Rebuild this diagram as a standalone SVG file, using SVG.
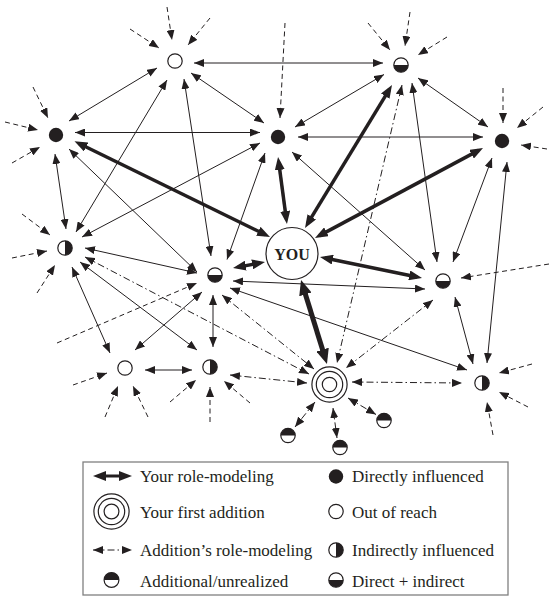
<svg xmlns="http://www.w3.org/2000/svg" width="550" height="604" viewBox="0 0 550 604">
  <defs>
    <style>
      .ln { stroke:#231f20; fill:none; stroke-width:1; }
      .bi { marker-start:url(#ah); marker-end:url(#ah); }
      .in { stroke-dasharray:5 3.5; marker-end:url(#ah); }
      .dd { stroke-dasharray:7 3 1.5 3; marker-start:url(#ah); marker-end:url(#ah); }
      .tk { stroke-width:3.5; marker-start:url(#ahT); marker-end:url(#ahT); }
      .tkk { stroke-width:5; marker-start:url(#ahK); marker-end:url(#ahK); }
      .ring { fill:#fff; stroke:#231f20; stroke-width:1.2; }
      .solid { fill:#231f20; }
      .half { fill:#231f20; stroke:none; }
      .lbl { font-family:"Liberation Serif","DejaVu Serif",serif; font-size:17px; fill:#231f20; }
      .you { font-family:"Liberation Serif","DejaVu Serif",serif; font-size:16px; font-weight:bold; fill:#231f20; text-anchor:middle; }
    </style>
    <marker id="ah" viewBox="0 0 10 8" refX="10" refY="4" markerWidth="10" markerHeight="8" markerUnits="userSpaceOnUse" orient="auto-start-reverse">
      <path d="M0,0 L10,4 L0,8 Z" fill="#231f20"/>
    </marker>
    <marker id="ahT" viewBox="0 0 13 10" refX="8" refY="5" markerWidth="13" markerHeight="10" markerUnits="userSpaceOnUse" orient="auto-start-reverse">
      <path d="M0,0 L13,5 L0,10 Z" fill="#231f20"/>
    </marker>
    <marker id="ahK" viewBox="0 0 15 13" refX="8" refY="6.5" markerWidth="15" markerHeight="13" markerUnits="userSpaceOnUse" orient="auto-start-reverse">
      <path d="M0,0 L15,6.5 L0,13 Z" fill="#231f20"/>
    </marker>
  </defs>

  <rect width="550" height="604" fill="#fff"/>

  <g id="connectors">
    <!-- mutual influence (thin, two-way) -->
    <line class="ln bi" x1="157" y1="68" x2="69" y2="121"/>
    <line class="ln bi" x1="194" y1="63" x2="383" y2="63"/>
    <line class="ln bi" x1="191" y1="73" x2="264" y2="123"/>
    <line class="ln bi" x1="167" y1="80" x2="76" y2="232"/>
    <line class="ln bi" x1="184" y1="79" x2="211" y2="256"/>
    <line class="ln bi" x1="75" y1="132.5" x2="260" y2="132.5"/>
    <line class="ln bi" x1="55" y1="154" x2="66" y2="229"/>
    <line class="ln bi" x1="69" y1="149" x2="197" y2="272"/>
    <line class="ln bi" x1="82" y1="237" x2="260" y2="143"/>
    <line class="ln bi" x1="227" y1="259.5" x2="265" y2="153"/>
    <line class="ln bi" x1="384" y1="74.5" x2="295" y2="127"/>
    <line class="ln bi" x1="298" y1="137" x2="483" y2="137"/>
    <line class="ln bi" x1="418" y1="78" x2="488" y2="127"/>
    <line class="ln bi" x1="412" y1="83" x2="437" y2="262"/>
    <line class="ln bi" x1="292" y1="152" x2="425" y2="270"/>
    <line class="ln bi" x1="492" y1="158" x2="453" y2="262"/>
    <line class="ln bi" x1="507" y1="162" x2="487" y2="363"/>
    <line class="ln bi" x1="85" y1="248" x2="197" y2="273"/>
    <line class="ln bi" x1="233" y1="281" x2="425" y2="289"/>
    <line class="ln bi" x1="230" y1="288" x2="467" y2="370"/>
    <line class="ln bi" x1="202" y1="292" x2="135" y2="350"/>
    <line class="ln bi" x1="213" y1="295" x2="213" y2="347"/>
    <line class="ln bi" x1="72" y1="267" x2="110" y2="353"/>
    <line class="ln bi" x1="80" y1="262" x2="197" y2="350"/>
    <line class="ln bi" x1="145" y1="370" x2="192" y2="370"/>
    <line class="ln bi" x1="455" y1="297" x2="473" y2="364"/>

    <!-- your role-modeling (thick) -->
    <line class="ln tk" x1="79" y1="143.5" x2="265.5" y2="234.8"/>
    <line class="ln tk" x1="278.7" y1="162" x2="286.3" y2="219"/>
    <line class="ln tk" x1="389.4" y1="89.3" x2="307.6" y2="223.7"/>
    <line class="ln tk" x1="478.6" y1="150.4" x2="319.4" y2="235.6"/>
    <line class="ln tk" x1="237.9" y1="267.1" x2="260.1" y2="262.9"/>
    <line class="ln tk" x1="324.9" y1="258" x2="417.1" y2="277"/>
    <line class="ln tkk" x1="303.1" y1="286.7" x2="324.9" y2="357.3"/>

    <!-- addition's role-modeling (dash-dot) -->
    <line class="ln dd" x1="402" y1="85" x2="337" y2="363"/>
    <line class="ln dd" x1="433" y1="300" x2="346" y2="368"/>
    <line class="ln dd" x1="352" y1="382" x2="462" y2="383"/>
    <line class="ln dd" x1="85" y1="257" x2="309" y2="374"/>
    <line class="ln dd" x1="222" y1="295" x2="314" y2="369"/>
    <line class="ln dd" x1="230" y1="375" x2="307" y2="383"/>
    <line class="ln dd" x1="315" y1="402" x2="295" y2="427"/>
    <line class="ln dd" x1="333" y1="408" x2="337" y2="438"/>
    <line class="ln dd" x1="348" y1="398" x2="376" y2="414.5"/>

    <!-- outside influences (dashed, one-way) -->
    <line class="ln in" x1="167" y1="7" x2="172" y2="40"/>
    <line class="ln in" x1="210" y1="18" x2="188" y2="45"/>
    <line class="ln in" x1="130" y1="29" x2="159" y2="48"/>
    <line class="ln in" x1="410" y1="12" x2="405" y2="46"/>
    <line class="ln in" x1="368" y1="23" x2="390" y2="50"/>
    <line class="ln in" x1="447" y1="37" x2="418" y2="55"/>
    <line class="ln in" x1="33" y1="87" x2="48" y2="118"/>
    <line class="ln in" x1="5" y1="122" x2="38" y2="130"/>
    <line class="ln in" x1="12" y1="163" x2="40" y2="147"/>
    <line class="ln in" x1="285" y1="23" x2="280" y2="118"/>
    <line class="ln in" x1="503" y1="88" x2="503" y2="123"/>
    <line class="ln in" x1="543" y1="107" x2="517" y2="128"/>
    <line class="ln in" x1="547" y1="149" x2="521" y2="145"/>
    <line class="ln in" x1="22" y1="214" x2="50" y2="235"/>
    <line class="ln in" x1="12" y1="258" x2="47" y2="251"/>
    <line class="ln in" x1="37" y1="293" x2="55" y2="265"/>
    <line class="ln in" x1="57" y1="343" x2="197" y2="283"/>
    <line class="ln in" x1="549" y1="264" x2="461" y2="278"/>
    <line class="ln in" x1="73" y1="385" x2="107" y2="373"/>
    <line class="ln in" x1="105" y1="417" x2="118" y2="386"/>
    <line class="ln in" x1="148" y1="417" x2="133" y2="386"/>
    <line class="ln in" x1="210" y1="422" x2="210" y2="387"/>
    <line class="ln in" x1="170" y1="402" x2="196" y2="380"/>
    <line class="ln in" x1="250" y1="403" x2="224" y2="381"/>
    <line class="ln in" x1="532" y1="364" x2="499" y2="373"/>
    <line class="ln in" x1="528" y1="407" x2="499" y2="392"/>
    <line class="ln in" x1="493" y1="435" x2="487" y2="402"/>
  </g>

  <!-- people -->
  <g id="node-a"><circle class="ring" cx="175" cy="61" r="7.2"/></g>
  <g id="node-b"><circle class="ring" cx="401" cy="65" r="7.2"/><path class="half" d="M393.8,65 A7.2,7.2 0 0 0 408.2,65 Z"/></g>
  <g id="node-c"><circle class="solid" cx="56" cy="135" r="7.2"/></g>
  <g id="node-d"><circle class="solid" cx="278" cy="137" r="7.2"/></g>
  <g id="node-e"><circle class="solid" cx="502" cy="141" r="7.2"/></g>
  <g id="node-f"><circle class="ring" cx="65" cy="248" r="7.2"/><path class="half" d="M65,240.8 A7.2,7.2 0 0 1 65,255.2 Z"/></g>
  <g id="node-g"><circle class="ring" cx="215" cy="275" r="7.2"/><path class="half" d="M207.8,275 A7.2,7.2 0 0 0 222.2,275 Z"/></g>
  <g id="node-you">
    <circle class="ring" cx="292" cy="253.5" r="26"/>
    <text class="you" x="292" y="259.5">YOU</text>
  </g>
  <g id="node-h"><circle class="ring" cx="443" cy="281" r="7.2"/><path class="half" d="M435.8,281 A7.2,7.2 0 0 0 450.2,281 Z"/></g>
  <g id="node-i"><circle class="ring" cx="125" cy="368" r="7.2"/></g>
  <g id="node-j"><circle class="ring" cx="210" cy="367" r="7.2"/><path class="half" d="M210,359.8 A7.2,7.2 0 0 1 210,374.2 Z"/></g>
  <g id="node-k">
    <circle class="ring" cx="329.5" cy="384.5" r="17.6"/>
    <circle class="ring" cx="329.5" cy="384.5" r="13.2"/>
    <circle class="ring" cx="329.5" cy="384.5" r="7.2"/>
  </g>
  <g id="node-l"><circle class="ring" cx="482" cy="383" r="7.2"/><path class="half" d="M482,375.8 A7.2,7.2 0 0 1 482,390.2 Z"/></g>
  <g id="node-m1"><circle class="ring" cx="288" cy="435.5" r="7.2"/><path class="half" d="M280.8,435.5 A7.2,7.2 0 0 1 295.2,435.5 Z"/></g>
  <g id="node-m2"><circle class="ring" cx="340" cy="447.5" r="7.2"/><path class="half" d="M332.8,447.5 A7.2,7.2 0 0 1 347.2,447.5 Z"/></g>
  <g id="node-m3"><circle class="ring" cx="384" cy="420.5" r="7.2"/><path class="half" d="M376.8,420.5 A7.2,7.2 0 0 1 391.2,420.5 Z"/></g>

  <!-- key -->
  <g id="legend">
    <rect x="83" y="462" width="425" height="133" fill="#fff" stroke="#808080" stroke-width="1.3"/>
    <line class="ln tk" x1="98" y1="476" x2="127" y2="476" style="stroke-width:3"/>
    <text class="lbl" x="140" y="482">Your role-modeling</text>
    <circle class="ring" cx="111.5" cy="511.5" r="17.6"/>
    <circle class="ring" cx="111.5" cy="511.5" r="13.2"/>
    <circle class="ring" cx="111.5" cy="511.5" r="7.4"/>
    <text class="lbl" x="140" y="517.5">Your first addition</text>
    <line class="ln dd" x1="93" y1="550" x2="132" y2="550"/>
    <text class="lbl" x="140" y="555.5">Addition’s role-modeling</text>
    <circle class="ring" cx="111.5" cy="580" r="7.4"/>
    <path class="half" d="M104.1,580 A7.4,7.4 0 0 1 118.9,580 Z"/>
    <text class="lbl" x="140" y="586.5">Additional/unrealized</text>

    <circle class="solid" cx="336" cy="476.5" r="7.2"/>
    <text class="lbl" x="352" y="482">Directly influenced</text>
    <circle class="ring" cx="336" cy="511.5" r="7.2"/>
    <text class="lbl" x="352" y="517.5">Out of reach</text>
    <circle class="ring" cx="336" cy="550" r="7.2"/>
    <path class="half" d="M336,542.8 A7.2,7.2 0 0 1 336,557.2 Z"/>
    <text class="lbl" x="352" y="555.5">Indirectly influenced</text>
    <circle class="ring" cx="336" cy="580" r="7.2"/>
    <path class="half" d="M328.8,580 A7.2,7.2 0 0 0 343.2,580 Z"/>
    <text class="lbl" x="352" y="586.5">Direct + indirect</text>
  </g>
</svg>
